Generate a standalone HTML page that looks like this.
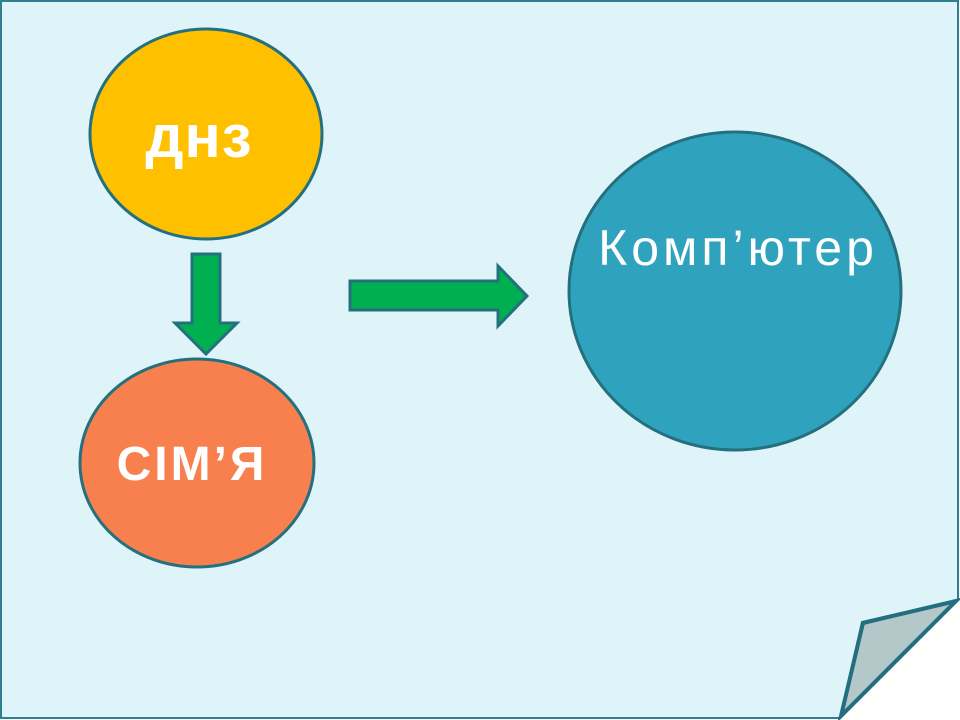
<!DOCTYPE html>
<html><head><meta charset="utf-8"><style>
body{margin:0;background:#fff;width:960px;height:720px;overflow:hidden}
svg{display:block}
text{font-family:"Liberation Sans","DejaVu Sans",sans-serif}
</style></head><body>
<svg width="960" height="720" viewBox="0 0 960 720">
<polygon points="1,1 958,1 958,600 862,622 840,718 1,718" fill="#dff4f9" stroke="#2f7f8f" stroke-width="2"/>
<polygon points="956,601 863,623 841,716" fill="#b4c7c9" stroke="#236f80" stroke-width="4"/>
<ellipse cx="206" cy="134" rx="116" ry="105" fill="#ffc000" stroke="#24707f" stroke-width="3"/>
<text x="199" y="157" font-size="60" font-weight="bold" fill="#fff" text-anchor="middle" letter-spacing="1">днз</text>
<ellipse cx="197" cy="463" rx="117" ry="104" fill="#f7804e" stroke="#24707f" stroke-width="3"/>
<text x="192" y="480" font-size="48" font-weight="bold" fill="#fff" text-anchor="middle" letter-spacing="3">СІМ’Я</text>
<ellipse cx="735" cy="291" rx="166" ry="159" fill="#2fa3bd" stroke="#24707f" stroke-width="3"/>
<text x="738" y="265" font-size="50" fill="#fff" text-anchor="middle" letter-spacing="4">Комп’ютер</text>
<polygon points="192,254 220,254 220,323 237,323 206,354 175,323 192,323" fill="#00b050" stroke="#24707f" stroke-width="3"/>
<polygon points="350,281 498,281 498,266 527,296 498,326 498,310 350,310" fill="#00b050" stroke="#24707f" stroke-width="3"/>
</svg>
</body></html>
